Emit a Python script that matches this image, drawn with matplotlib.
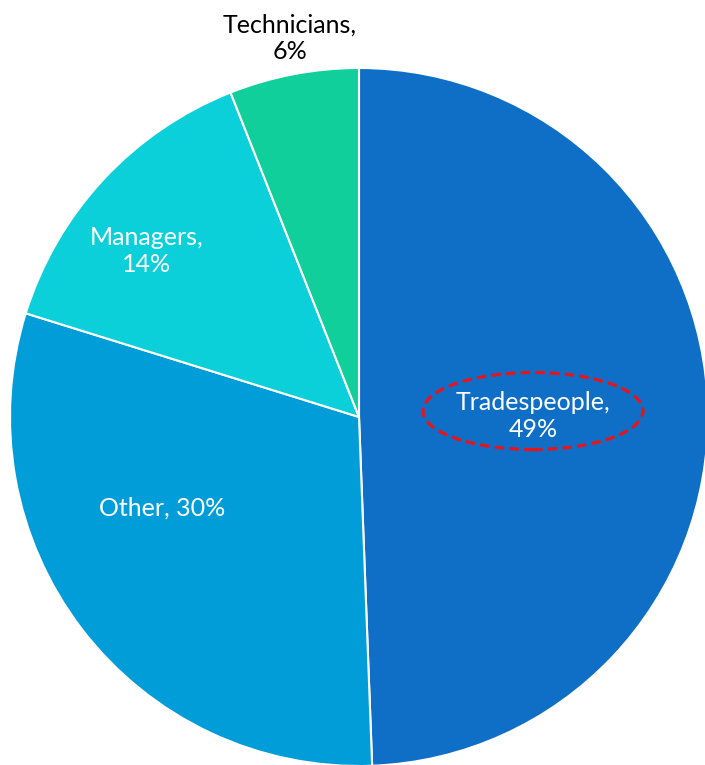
import matplotlib
matplotlib.use("Agg")
import matplotlib.pyplot as plt
from matplotlib.patches import Ellipse

categories = ["Tradespeople", "Other", "Managers", "Technicians"]
values = [49.4, 30.4, 14.2, 6.0]
pct_labels = ["49%", "30%", "14%", "6%"]
colors = ["#0F6FC6", "#009DD9", "#0BD0D9", "#10CF9B"]

plt.rcParams['font.family'] = ['Lato', 'DejaVu Sans']

W, H = 705, 765
fig = plt.figure(figsize=(W / 100, H / 100), dpi=100)
cx, cy, R = 359, 417, 349
ax = fig.add_axes([(cx - R) / W, (H - cy - R) / H, 2 * R / W, 2 * R / H])
ax.axis("off")

ax.pie(values, colors=colors, startangle=90, counterclock=False, radius=1,
       wedgeprops=dict(edgecolor="white", linewidth=1.5))
ax.set_xlim(-1, 1)
ax.set_ylim(-1, 1)
ax.set_aspect("auto")

def px(x, y):
    return (x - cx) / R, (cy - y) / R

label_pos = [(533, 416), (162, 508), (147, 251), (290, 38)]
label_text = [f"{categories[0]},\n{pct_labels[0]}",
              f"{categories[1]}, {pct_labels[1]}",
              f"{categories[2]},\n{pct_labels[2]}",
              f"{categories[3]},\n{pct_labels[3]}"]
label_colors = ["white", "white", "white", "black"]
for (x, y), t, c in zip(label_pos, label_text, label_colors):
    xd, yd = px(x, y)
    ax.text(xd, yd, t, ha="center", va="center", color=c, fontsize=18,
            fontweight="normal", linespacing=1.2, clip_on=False)

ex, ey = px(533, 411)
ax.add_patch(Ellipse((ex, ey), 220 / R, 77 / R, fill=False, edgecolor="#E8141B",
                     linewidth=2.3, linestyle=(0, (3, 1.6))))

fig.savefig("out.png", dpi=100)
